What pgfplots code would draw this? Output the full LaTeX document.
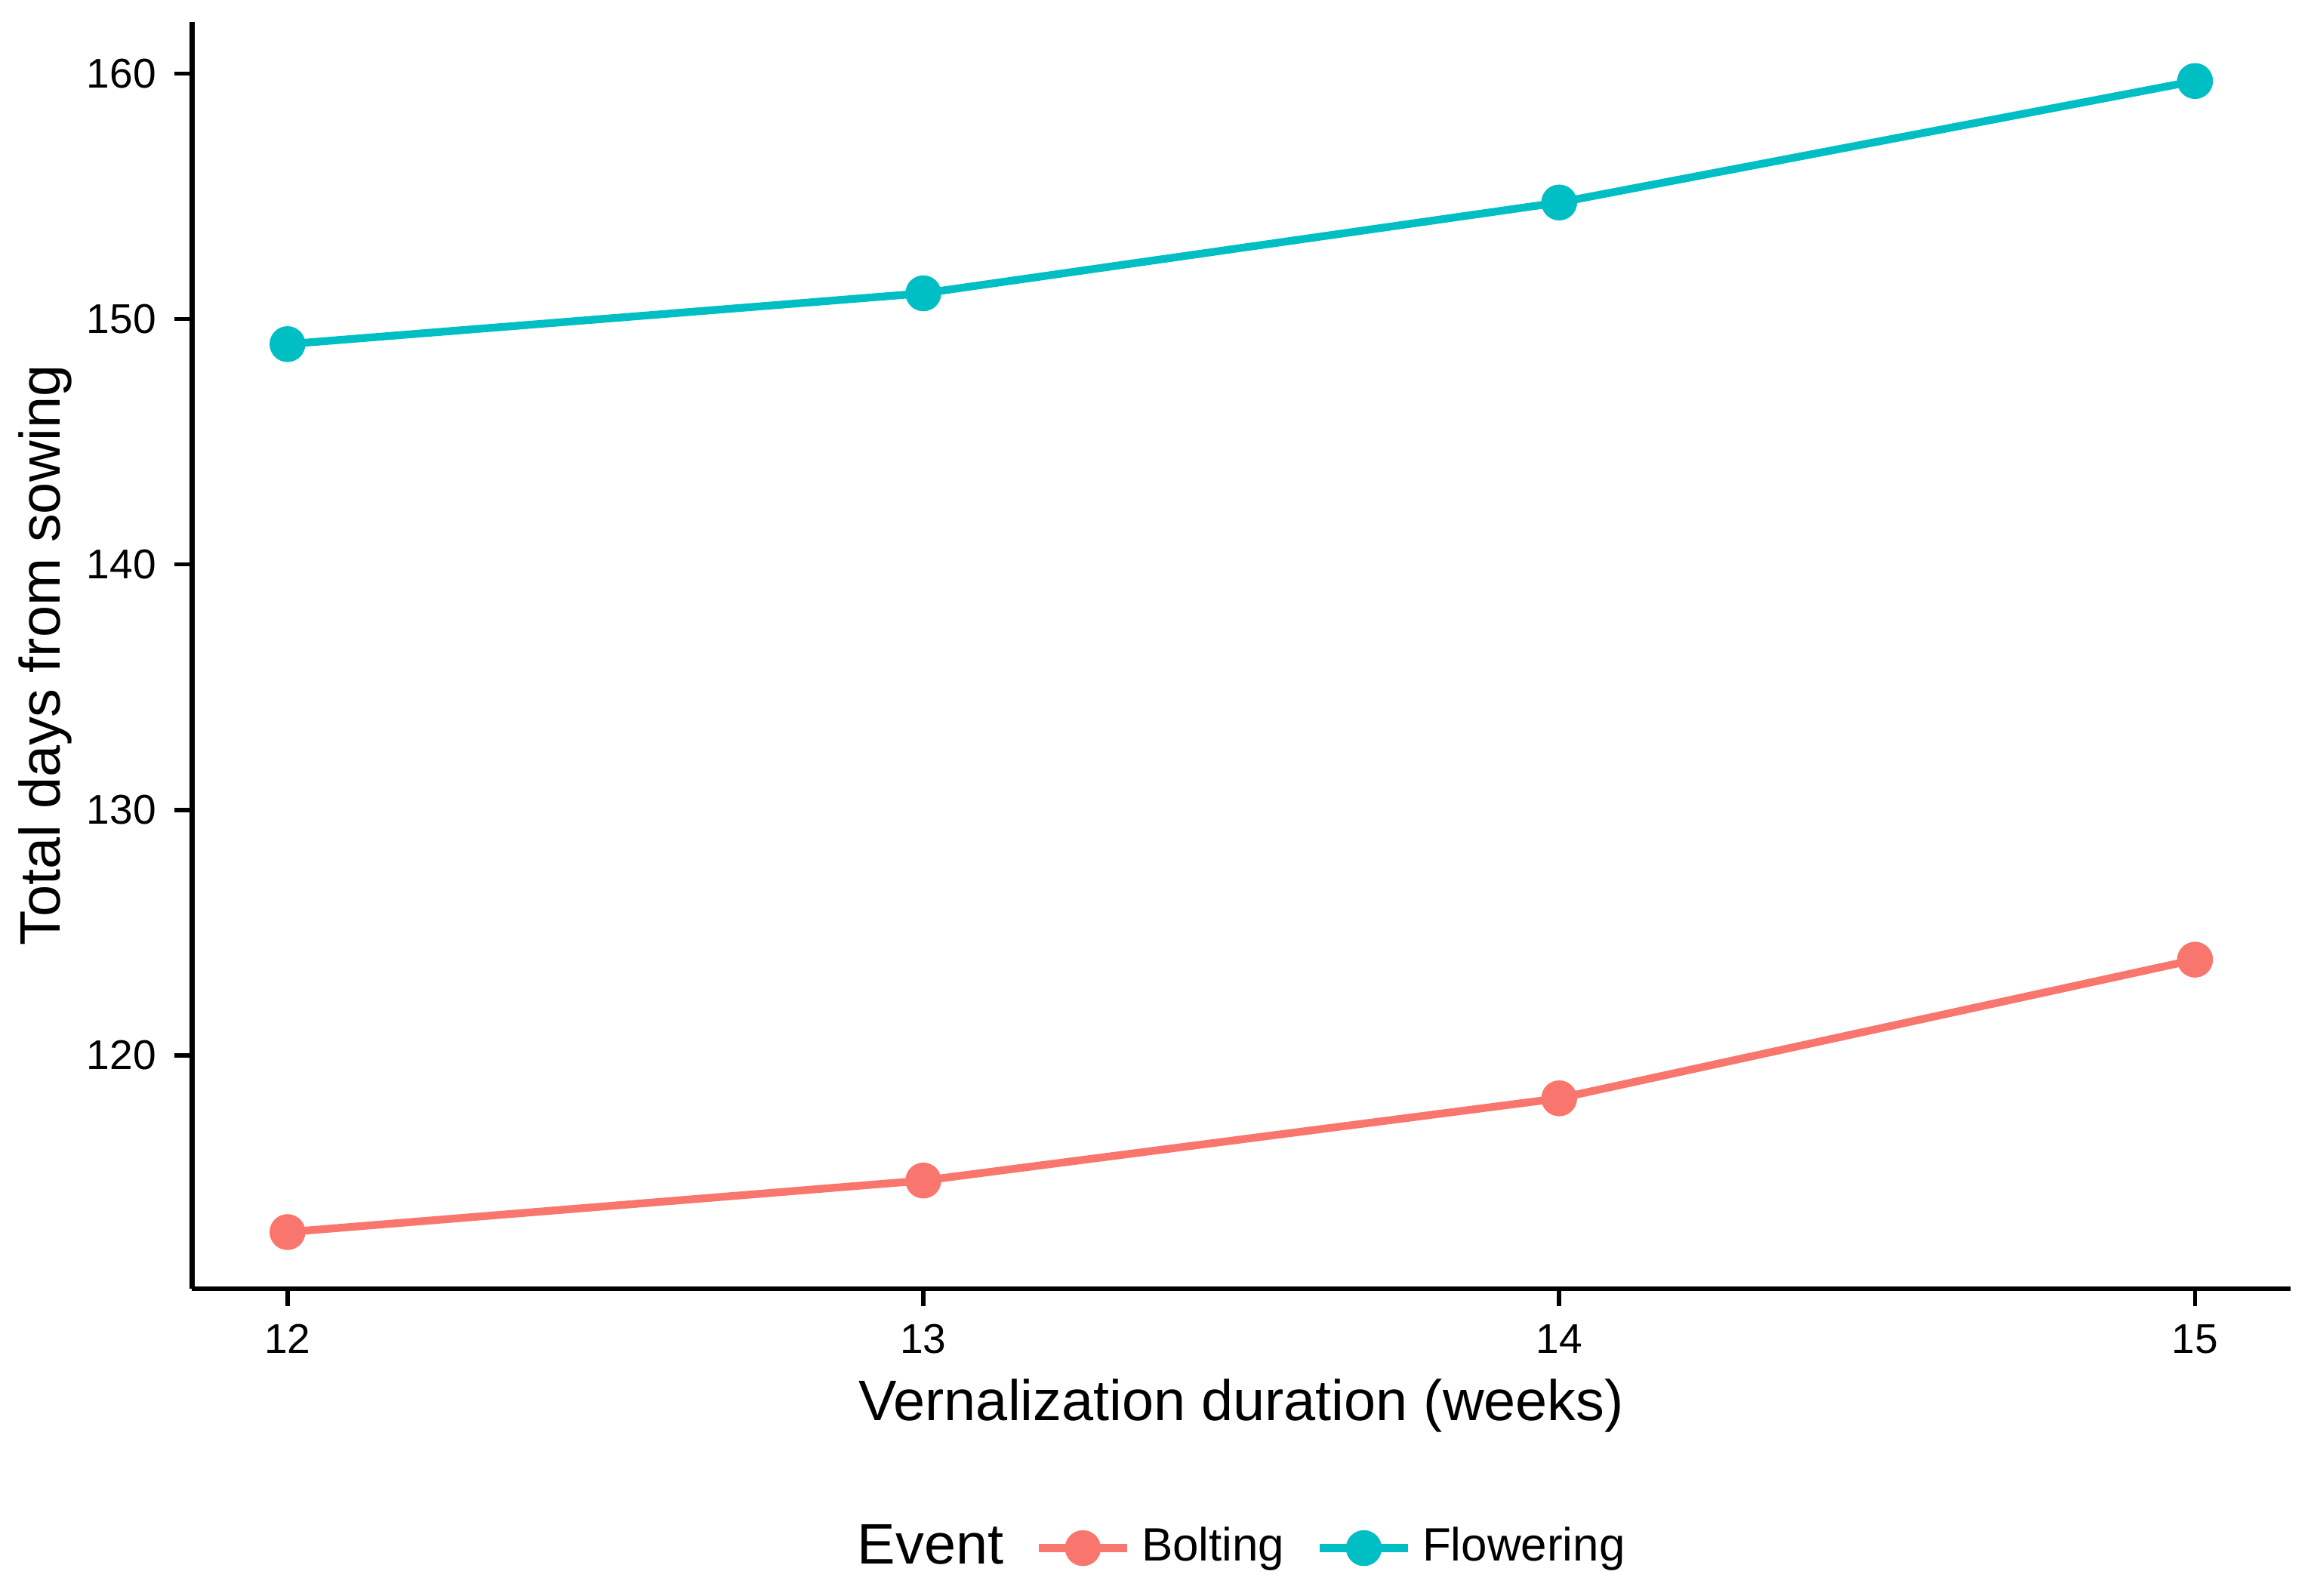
\documentclass[border=0pt]{standalone}
\usepackage{pgfplots}
\pgfplotsset{compat=1.18}
\usepackage{fontspec}
\setmainfont{Liberation Sans}
\definecolor{cB}{HTML}{F8766D}
\definecolor{cF}{HTML}{00BFC4}
\begin{document}
\begin{tikzpicture}
\path[use as bounding box] (-1.30,-2.08) rectangle (14.38,8.72);
\begin{axis}[
  at={(0,0)}, anchor=south west,
  scale only axis, width=14.2cm, height=8.57cm,
  xmin=11.85, xmax=15.15, ymin=110.5, ymax=162.1,
  xtick={12,13,14,15}, ytick={120,130,140,150,160},
  axis lines=left, axis line style={line width=0.9pt,-},
  tick style={line width=0.8pt,black}, tick align=outside,
  major tick length=0.12cm,
  ticklabel style={font=\fontsize{8}{9}\selectfont},
  /pgf/number format/assume math mode=true,
  xlabel={Vernalization duration (weeks)}, ylabel={Total days from sowing},
  label style={font=\fontsize{11}{12}\selectfont},
  xlabel style={yshift=2pt}, ylabel style={yshift=-4pt},
  legend style={at={(0.5,-0.205)}, anchor=center, draw=none, legend columns=-1,
    font=\fontsize{9}{10}\selectfont, /tikz/every even column/.append style={column sep=4pt}},
  legend cell align=left,
]
\addlegendimage{empty legend}
\addlegendentry{\fontsize{11}{12}\selectfont Event}
\addplot[cB, line width=1.5pt, mark=*, mark size=2.7pt] coordinates {(12,112.8)(13,114.9)(14,118.25)(15,123.9)};
\addlegendentry{Bolting}
\addplot[cF, line width=1.5pt, mark=*, mark size=2.7pt] coordinates {(12,148.98)(13,151.05)(14,154.75)(15,159.7)};
\addlegendentry{Flowering}
\end{axis}
\end{tikzpicture}
\end{document}
